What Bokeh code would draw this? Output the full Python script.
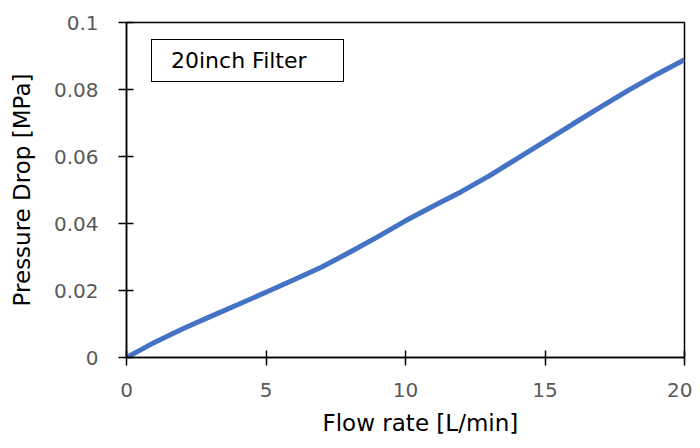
from bokeh.plotting import figure
from bokeh.models import Range1d, FixedTicker, Legend, LegendItem, Title
from bokeh.embed import file_html
from bokeh.resources import INLINE

flow = [0, 1, 2, 3, 4, 5, 6, 7, 8, 9, 10, 11, 12, 13, 14, 15, 16, 17, 18, 19, 20]
drop = [0.0, 0.0045, 0.0085, 0.0122, 0.0158, 0.0195, 0.0232, 0.027, 0.0314, 0.036,
        0.0408, 0.0452, 0.0495, 0.0542, 0.0594, 0.0645, 0.0697, 0.0748, 0.0798, 0.0845, 0.0889]
x_ticks = [0, 5, 10, 15, 20]
y_ticks = [0, 0.02, 0.04, 0.06, 0.08, 0.1]
y_labels = ["0", "0.02", "0.04", "0.06", "0.08", "0.1"]
series_name = "20inch Filter"
x_title = "Flow rate [L/min]"
y_title = "Pressure Drop [MPa]"

FONT = "DejaVu Sans"

p = figure(width=692, height=448, output_backend="svg", toolbar_location=None,
           x_range=Range1d(0, 20), y_range=Range1d(0, 0.1),
           min_border_left=126, min_border_right=8, min_border_top=22, min_border_bottom=91)
p.xgrid.visible = False
p.ygrid.visible = False
p.outline_line_color = "black"
p.outline_line_width = 1.5
p.outline_line_alpha = 1.0

r = p.line(flow, drop, line_color="#4472C4", line_width=5)

for ax in (p.xaxis[0], p.yaxis[0]):
    ax.axis_line_color = "black"
    ax.axis_line_width = 1.5
    ax.major_tick_line_color = "black"
    ax.major_tick_line_width = 1.5
    ax.major_tick_in = 7
    ax.major_tick_out = 8
    ax.minor_tick_line_color = None
    ax.major_label_text_color = "#595959"
    ax.major_label_text_font = FONT
    ax.major_label_text_font_size = "20px"
    ax.axis_label_text_font = FONT
    ax.axis_label_text_font_style = "normal"
    ax.axis_label_text_color = "black"
    ax.axis_label_text_font_size = "23px"

p.xaxis.ticker = FixedTicker(ticks=x_ticks)
p.yaxis.ticker = FixedTicker(ticks=y_ticks)
p.yaxis.major_label_overrides = {t: l for t, l in zip(y_ticks, y_labels)}
p.xaxis.major_label_standoff = 17
p.yaxis.major_label_standoff = 20
p.yaxis.axis_label = y_title
p.yaxis.axis_label_standoff = 16

xt = Title(text=x_title, align="left", offset=196, standoff=17,
           text_font=FONT, text_font_size="23px", text_font_style="normal",
           text_color="black")
p.add_layout(xt, "below")

legend = Legend(items=[LegendItem(label=series_name, renderers=[r])],
                location=(25, 275), margin=0, padding=8,
                glyph_width=0, glyph_height=24, label_standoff=11,
                label_width=164, label_height=24,
                label_text_font=FONT, label_text_font_size="22px", label_text_color="black",
                border_line_color="black", border_line_width=1.5, border_line_alpha=1.0,
                background_fill_color="white", background_fill_alpha=1.0)
p.add_layout(legend)

open("out.html", "w").write(file_html(p, INLINE))
